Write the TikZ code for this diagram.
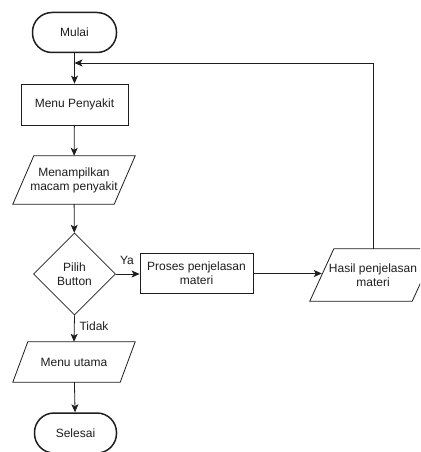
\documentclass[tikz,border=0pt]{standalone}
\usepackage{fontspec}
\setmainfont{Liberation Sans}
\usetikzlibrary{shapes.geometric,arrows.meta,calc}
\definecolor{ink}{RGB}{30,30,30}
\tikzset{
  every node/.style={font=\fontsize{12}{14}\selectfont, text=ink},
  term/.style={draw=ink, line width=1.5pt, rounded corners=19.5pt, minimum width=84pt, minimum height=40pt, inner sep=0pt},
  procbox/.style={draw=ink, line width=0.8pt, minimum width=#1, minimum height=41pt, inner sep=0pt, align=center},
  iobox/.style={minimum width=122pt, inner sep=0pt, align=center},
  decbox/.style={draw=ink, line width=0.8pt, diamond, minimum width=82pt, minimum height=82pt, inner sep=0pt, align=center},
  conn/.style={draw=ink, line width=0.8pt, -{Stealth[length=8pt,width=7pt,inset=2pt]}},
  edgelbl/.style={font=\fontsize{12}{14}\selectfont}
}
\begin{document}
\begin{tikzpicture}[x=1pt,y=-1pt]
\clip (0,0) rectangle (420,452);
\fill[white] (0,0) rectangle (420,452);

\node[term] (mulai) at (74.5,32.5) {Mulai};
\node[procbox=107pt] (menu) at (74.5,104.5) {Menu Penyakit};
\node[iobox, minimum height=48pt] (tampil) at (74,180) {Menampilkan\\macam penyakit};
\draw[draw=ink, line width=0.8pt] ($(tampil.north west)+(21,0)$) -- (tampil.north east) -- ($(tampil.south east)+(-21,0)$) -- (tampil.south west) -- cycle;
\node[decbox] (pilih) at (74.5,274) {Pilih\\Button};
\node[procbox=113pt, minimum height=40pt] (proses) at (196.5,273.5) {Proses penjelasan\\materi};
\node[iobox, minimum width=126pt, minimum height=52pt] (hasil) at (373,275) {Hasil penjelasan\\materi};
\draw[draw=ink, line width=0.8pt] ($(hasil.north west)+(24,0)$) -- (hasil.north east) -- ($(hasil.south east)+(-24,0)$) -- (hasil.south west) -- cycle;
\coordinate (hasilL) at ($(hasil.west)+(12,0)$);
\node[iobox, minimum height=40pt] (utama) at (74,362) {Menu utama};
\draw[draw=ink, line width=0.8pt] ($(utama.north west)+(15,0)$) -- (utama.north east) -- ($(utama.south east)+(-15,0)$) -- (utama.south west) -- cycle;
\node[term, minimum width=82pt] (selesai) at (75.5,433) {Selesai};

\coordinate (join) at (74.5,63);
\coordinate (corner) at (373,63);

\draw[conn] (mulai) -- (menu);
\draw[conn] (menu) -- (tampil);
\draw[conn] (tampil) -- (pilih);
\draw[conn] (pilih.east) -- (proses.west |- pilih.east);
\draw[conn] (proses.east) -- (hasilL |- proses.east);
\draw[conn] (pilih.south) -- (utama.north);
\draw[conn] (utama) -- (selesai);
\draw[conn] (hasil.north) -- (corner) -- (join);

\node[edgelbl] (ya) at (127,260) {Ya};
\node[edgelbl] (tidak) at (94,326) {Tidak};
\end{tikzpicture}
\end{document}
